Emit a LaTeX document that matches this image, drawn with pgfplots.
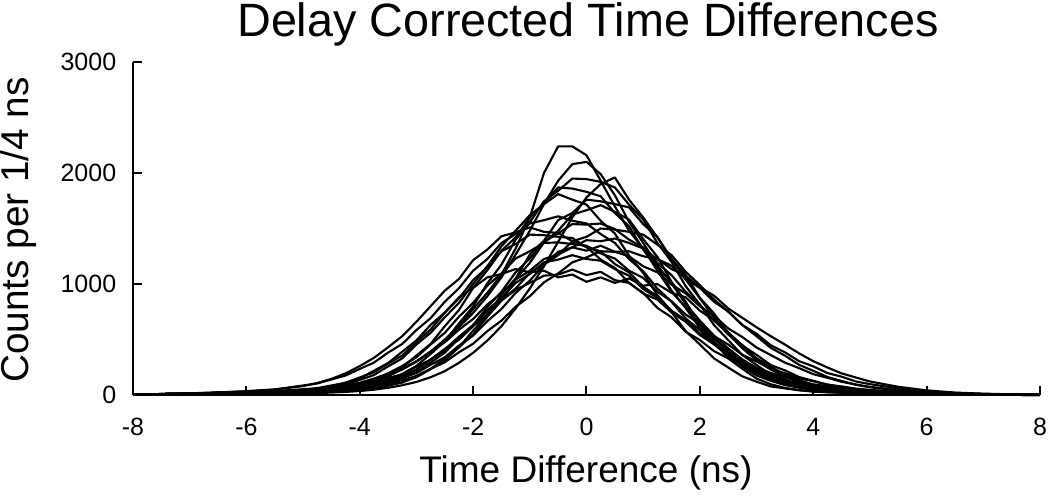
\documentclass[border=0pt]{standalone}
\usepackage{fontspec}
\setmainfont{Liberation Sans}
\usepackage{pgfplots}
\pgfplotsset{compat=1.18}
\begin{document}
\begin{tikzpicture}
\path[use as bounding box] (-53.2pt,-40.8pt) rectangle (366.8pt,158pt);
\begin{axis}[
  at={(0,0)}, anchor=south west,
  scale only axis, width=362.8pt, height=133.2pt,
  xmin=-8, xmax=8, ymin=0, ymax=3000,
  axis lines*=left,
  axis line style={line width=0.8pt},
  tick align=inside,
  major tick length=3.6pt,
  tick style={line width=0.8pt, black},
  xtick={-8,-6,...,8}, ytick={0,1000,2000,3000},
  /pgf/number format/assume math mode=true,
  /pgf/number format/1000 sep={},
  ticklabel style={font=\fontsize{10}{12}\selectfont},
  xticklabel style={yshift=-5.6pt},
  yticklabel style={xshift=-3.2pt},
  clip=false,
  cycle list={{black, mark=none}},
  every axis plot post/.append style={black, line width=0.85pt, line join=round, mark=none},
]
% N1
\addplot coordinates {(-8,2)(-7.5,5)(-7,8)(-6.5,12)(-6,15)(-5.5,20)(-5,30)(-4.75,38)(-4.5,50)(-4.25,68)(-4,90)(-3.75,125)(-3.5,170)(-3.25,230)(-3,300)(-2.75,390)(-2.5,500)(-2.25,620)(-2,775)(-1.75,920)(-1.5,1085)(-1.25,1320)(-1,1600)(-0.75,2000)(-0.5,2240)(-0.25,2240)(0,2160)(0.25,1930)(0.5,1700)(0.75,1480)(1,1320)(1.25,1120)(1.5,930)(1.75,790)(2,640)(2.25,510)(2.5,400)(2.75,300)(3,220)(3.25,160)(3.5,115)(3.75,80)(4,55)(4.25,38)(4.5,27)(4.75,19)(5,14)(5.5,8)(6,5)(6.5,3)(7,2)(7.5,1)(8,0)};
% N2
\addplot coordinates {(-8,3)(-7.5,6)(-7,9)(-6.5,13)(-6,18)(-5.5,25)(-5,35)(-4.75,45)(-4.5,58)(-4.25,75)(-4,100)(-3.75,135)(-3.5,180)(-3.25,235)(-3,305)(-2.75,390)(-2.5,490)(-2.25,610)(-2,740)(-1.75,890)(-1.5,1060)(-1.25,1265)(-1,1480)(-0.75,1720)(-0.5,1930)(-0.25,2080)(0,2100)(0.25,1990)(0.5,1800)(0.75,1560)(1,1370)(1.25,1170)(1.5,1005)(1.75,820)(2,670)(2.25,535)(2.5,420)(2.75,320)(3,240)(3.25,175)(3.5,125)(3.75,88)(4,60)(4.25,42)(4.5,30)(4.75,21)(5,15)(5.5,9)(6,5)(6.5,3)(7,2)(7.5,1)(8,0)};
% N3
\addplot coordinates {(-8,2)(-7.5,3)(-7,5)(-6.5,7)(-6,9)(-5.5,12)(-5,15)(-4.75,18)(-4.5,22)(-4.25,28)(-4,36)(-3.75,48)(-3.5,65)(-3.25,88)(-3,118)(-2.75,160)(-2.5,215)(-2.25,290)(-2,380)(-1.75,490)(-1.5,620)(-1.25,780)(-1,960)(-0.75,1160)(-0.5,1380)(-0.25,1600)(0,1780)(0.25,1900)(0.5,1960)(0.75,1760)(1,1600)(1.25,1420)(1.5,1230)(1.75,1040)(2,870)(2.25,700)(2.5,550)(2.75,420)(3,315)(3.25,230)(3.5,165)(3.75,115)(4,80)(4.25,55)(4.5,38)(4.75,27)(5,19)(5.5,11)(6,6)(6.5,3)(7,2)(7.5,1)(8,0)};
% P1
\addplot coordinates {(-8,3)(-7.5,8)(-7,12)(-6.5,18)(-6,23)(-5.5,27)(-5,33)(-4.75,36)(-4.5,41)(-4.25,55)(-4,70)(-3.75,99)(-3.5,136)(-3.25,190)(-3,262)(-2.75,370)(-2.5,482)(-2.25,645)(-2,798)(-1.75,1005)(-1.5,1175)(-1.25,1400)(-1,1555)(-0.75,1745)(-0.5,1840)(-0.25,1950)(0,1945)(0.25,1920)(0.5,1870)(0.75,1715)(1,1580)(1.25,1370)(1.5,1200)(1.75,980)(2,815)(2.25,630)(2.5,495)(2.75,360)(3,270)(3.25,183)(3.5,140)(3.75,94)(4,70)(4.25,48)(4.5,38)(4.75,27)(5,23)(5.5,16)(6,12)(6.5,8)(7,5)(7.5,3)(8,1)};
% P2
\addplot coordinates {(-8,3)(-7.5,7)(-7,13)(-6.5,17)(-6,24)(-5.5,28)(-5,38)(-4.75,42)(-4.5,56)(-4.25,70)(-4,101)(-3.75,133)(-3.5,194)(-3.25,250)(-3,356)(-2.75,460)(-2.5,620)(-2.25,765)(-2,965)(-1.75,1125)(-1.5,1300)(-1.25,1420)(-1,1600)(-0.75,1730)(-0.5,1870)(-0.25,1860)(0,1830)(0.25,1790)(0.5,1640)(0.75,1520)(1,1310)(1.25,1155)(1.5,940)(1.75,785)(2,600)(2.25,478)(2.5,342)(2.75,258)(3,176)(3.25,128)(3.5,90)(3.75,66)(4,45)(4.25,36)(4.5,26)(4.75,22)(5,19)(5.5,15)(6,11)(6.5,8)(7,5)(7.5,3)(8,1)};
% P3
\addplot coordinates {(-8,3)(-7.5,9)(-7,12)(-6.5,19)(-6,25)(-5.5,31)(-5,46)(-4.75,54)(-4.5,73)(-4.25,95)(-4,136)(-3.75,180)(-3.5,258)(-3.25,330)(-3,455)(-2.75,560)(-2.5,700)(-2.25,830)(-2,1000)(-1.75,1160)(-1.5,1340)(-1.25,1480)(-1,1620)(-0.75,1720)(-0.5,1810)(-0.25,1760)(0,1715)(0.25,1570)(0.5,1455)(0.75,1255)(1,1100)(1.25,900)(1.5,748)(1.75,575)(2,455)(2.25,330)(2.5,248)(2.75,168)(3,120)(3.25,77)(3.5,60)(3.75,42)(4,33)(4.25,25)(4.5,22)(4.75,19)(5,17)(5.5,14)(6,11)(6.5,8)(7,5)(7.5,3)(8,1)};
% P4
\addplot coordinates {(-8,2)(-7.5,8)(-7,11)(-6.5,18)(-6,21)(-5.5,27)(-5,30)(-4.75,28)(-4.5,33)(-4.25,37)(-4,49)(-3.75,60)(-3.5,89)(-3.25,112)(-3,172)(-2.75,232)(-2.5,335)(-2.25,430)(-2,580)(-1.75,715)(-1.5,905)(-1.25,1050)(-1,1265)(-0.75,1390)(-0.5,1575)(-0.25,1640)(0,1760)(0.25,1745)(0.5,1720)(0.75,1690)(1,1540)(1.25,1425)(1.5,1225)(1.75,1080)(2,875)(2.25,735)(2.5,560)(2.75,445)(3,320)(3.25,242)(3.5,172)(3.75,128)(4,87)(4.25,66)(4.5,45)(4.75,36)(5,26)(5.5,18)(6,12)(6.5,8)(7,5)(7.5,3)(8,1)};
% P5
\addplot coordinates {(-8,3)(-7.5,8)(-7,12)(-6.5,18)(-6,24)(-5.5,29)(-5,36)(-4.75,40)(-4.5,44)(-4.25,57)(-4,68)(-3.75,93)(-3.5,118)(-3.25,155)(-3,198)(-2.75,272)(-2.5,340)(-2.25,445)(-2,535)(-1.75,665)(-1.5,775)(-1.25,920)(-1,1030)(-0.75,1175)(-0.5,1260)(-0.25,1385)(0,1425)(0.25,1500)(0.5,1490)(0.75,1470)(1,1445)(1.25,1355)(1.5,1260)(1.75,1110)(2,990)(2.25,860)(2.5,750)(2.75,630)(3,530)(3.25,425)(3.5,355)(3.75,272)(4,218)(4.25,162)(4.5,127)(4.75,92)(5,70)(5.5,39)(6,22)(6.5,12)(7,7)(7.5,3)(8,1)};
% B1
\addplot coordinates {(-8,3)(-7.5,9)(-7,15)(-6.5,24)(-6,32)(-5.5,50)(-5,80)(-4.75,108)(-4.5,145)(-4.25,195)(-4,260)(-3.75,335)(-3.5,430)(-3.25,530)(-3,660)(-2.75,800)(-2.5,940)(-2.25,1045)(-2,1215)(-1.75,1310)(-1.5,1430)(-1.25,1465)(-1,1510)(-0.75,1470)(-0.5,1460)(-0.25,1385)(0,1335)(0.25,1220)(0.5,1145)(0.75,1010)(1,920)(1.25,785)(1.5,700)(1.75,570)(2,495)(2.25,395)(2.5,330)(2.75,252)(3,208)(3.25,150)(3.5,130)(3.75,97)(4,80)(4.25,60)(4.5,50)(4.75,38)(5,32)(5.5,22)(6,14)(6.5,9)(7,5)(7.5,3)(8,1)};
% B2
\addplot coordinates {(-8,3)(-7.5,8)(-7,12)(-6.5,19)(-6,26)(-5.5,34)(-5,52)(-4.75,62)(-4.5,86)(-4.25,110)(-4,158)(-3.75,205)(-3.5,284)(-3.25,355)(-3,478)(-2.75,590)(-2.5,742)(-2.25,870)(-2,1035)(-1.75,1150)(-1.5,1295)(-1.25,1360)(-1,1445)(-0.75,1440)(-0.5,1425)(-0.25,1415)(0,1330)(0.25,1295)(0.5,1180)(0.75,1105)(1,975)(1.25,890)(1.5,760)(1.75,675)(2,555)(2.25,480)(2.5,380)(2.75,318)(3,245)(3.25,200)(3.5,158)(3.75,127)(4,96)(4.25,80)(4.5,60)(4.75,49)(5,38)(5.5,25)(6,16)(6.5,10)(7,5)(7.5,3)(8,1)};
% B3
\addplot coordinates {(-8,3)(-7.5,8)(-7,12)(-6.5,19)(-6,24)(-5.5,30)(-5,42)(-4.75,45)(-4.5,57)(-4.25,67)(-4,91)(-3.75,112)(-3.5,155)(-3.25,185)(-3,256)(-2.75,318)(-2.5,415)(-2.25,498)(-2,620)(-1.75,722)(-1.5,860)(-1.25,960)(-1,1100)(-0.75,1175)(-0.5,1290)(-0.25,1330)(0,1395)(0.25,1385)(0.5,1410)(0.75,1370)(1,1320)(1.25,1225)(1.5,1165)(1.75,1045)(2,965)(2.25,840)(2.5,755)(2.75,630)(3,552)(3.25,448)(3.5,385)(3.75,305)(4,258)(4.25,198)(4.5,165)(4.75,122)(5,98)(5.5,59)(6,33)(6.5,19)(7,10)(7.5,5)(8,1)};
% B4
\addplot coordinates {(-8,3)(-7.5,8)(-7,12)(-6.5,18)(-6,24)(-5.5,31)(-5,39)(-4.75,48)(-4.5,58)(-4.25,80)(-4,104)(-3.75,146)(-3.5,195)(-3.25,262)(-3,340)(-2.75,455)(-2.5,560)(-2.25,705)(-2,830)(-1.75,985)(-1.5,1095)(-1.25,1230)(-1,1295)(-0.75,1370)(-0.5,1375)(-0.25,1360)(0,1345)(0.25,1275)(0.5,1230)(0.75,1120)(1,1055)(1.25,930)(1.5,845)(1.75,725)(2,640)(2.25,530)(2.5,455)(2.75,362)(3,302)(3.25,234)(3.5,197)(3.75,150)(4,124)(4.25,94)(4.5,77)(4.75,58)(5,46)(5.5,29)(6,18)(6.5,11)(7,5)(7.5,3)(8,1)};
% B5
\addplot coordinates {(-8,3)(-7.5,8)(-7,12)(-6.5,19)(-6,26)(-5.5,36)(-5,46)(-4.75,56)(-4.5,68)(-4.25,90)(-4,110)(-3.75,148)(-3.5,187)(-3.25,240)(-3,302)(-2.75,392)(-2.5,475)(-2.25,588)(-2,685)(-1.75,815)(-1.5,915)(-1.25,1040)(-1,1120)(-0.75,1225)(-0.5,1265)(-0.25,1330)(0,1300)(0.25,1345)(0.5,1290)(0.75,1250)(1,1160)(1.25,1105)(1.5,995)(1.75,915)(2,800)(2.25,715)(2.5,600)(2.75,522)(3,428)(3.25,360)(3.5,292)(3.75,242)(4,188)(4.25,155)(4.5,119)(4.75,95)(5,73)(5.5,44)(6,26)(6.5,15)(7,8)(7.5,4)(8,1)};
% B6
\addplot coordinates {(-8,3)(-7.5,8)(-7,12)(-6.5,18)(-6,23)(-5.5,29)(-5,34)(-4.75,37)(-4.5,41)(-4.25,52)(-4,62)(-3.75,81)(-3.5,104)(-3.25,134)(-3,172)(-2.75,236)(-2.5,295)(-2.25,385)(-2,462)(-1.75,575)(-1.5,670)(-1.25,795)(-1,890)(-0.75,1015)(-0.5,1095)(-0.25,1195)(0,1240)(0.25,1295)(0.5,1290)(0.75,1295)(1,1250)(1.25,1225)(1.5,1135)(1.75,1075)(2,970)(2.25,895)(2.5,780)(2.75,695)(3,610)(3.25,530)(3.5,455)(3.75,375)(4,305)(4.25,248)(4.5,195)(4.75,158)(5,122)(5.5,74)(6,42)(6.5,22)(7,12)(7.5,6)(8,1)};
% B7
\addplot coordinates {(-8,3)(-7.5,8)(-7,12)(-6.5,18)(-6,23)(-5.5,28)(-5,33)(-4.75,37)(-4.5,42)(-4.25,55)(-4,68)(-3.75,96)(-3.5,128)(-3.25,172)(-3,228)(-2.75,318)(-2.5,400)(-2.25,520)(-2,625)(-1.75,765)(-1.5,875)(-1.25,1010)(-1,1090)(-0.75,1195)(-0.5,1220)(-0.25,1260)(0,1225)(0.25,1210)(0.5,1135)(0.75,1075)(1,955)(1.25,875)(1.5,745)(1.75,660)(2,540)(2.25,458)(2.5,358)(2.75,292)(3,218)(3.25,172)(3.5,131)(3.75,104)(4,76)(4.25,61)(4.5,45)(4.75,37)(5,29)(5.5,20)(6,13)(6.5,8)(7,5)(7.5,3)(8,1)};
% F1
\addplot coordinates {(-8,3)(-7.5,8)(-7,12)(-6.5,18)(-6,22)(-5.5,26)(-5,30)(-4.75,32)(-4.5,35)(-4.25,47)(-4,60)(-3.75,86)(-3.5,119)(-3.25,166)(-3,230)(-2.75,320)(-2.5,410)(-2.25,525)(-2,630)(-1.75,752)(-1.5,850)(-1.25,948)(-1,1010)(-0.75,1075)(-0.5,1085)(-0.25,1130)(0,1080)(0.25,1110)(0.5,1035)(0.75,1010)(1,915)(1.25,860)(1.5,745)(1.75,665)(2,548)(2.25,458)(2.5,352)(2.75,276)(3,196)(3.25,145)(3.5,102)(3.75,73)(4,50)(4.25,38)(4.5,29)(4.75,23)(5,19)(5.5,15)(6,11)(6.5,8)(7,5)(7.5,3)(8,1)};
% F2
\addplot coordinates {(-8,3)(-7.5,8)(-7,12)(-6.5,18)(-6,23)(-5.5,31)(-5,45)(-4.75,58)(-4.5,76)(-4.25,111)(-4,150)(-3.75,218)(-3.5,288)(-3.25,390)(-3,492)(-2.75,632)(-2.5,742)(-2.25,880)(-2,965)(-1.75,1060)(-1.5,1090)(-1.25,1135)(-1,1105)(-0.75,1120)(-0.5,1060)(-0.25,1085)(0,1020)(0.25,1060)(0.5,1010)(0.75,1050)(1,985)(1.25,1000)(1.5,920)(1.75,880)(2,760)(2.25,675)(2.5,545)(2.75,450)(3,330)(3.25,256)(3.5,182)(3.75,135)(4,90)(4.25,67)(4.5,44)(4.75,34)(5,25)(5.5,17)(6,11)(6.5,8)(7,5)(7.5,3)(8,1)};
% M1
\addplot coordinates {(-8,3)(-7.5,9)(-7,14)(-6.5,22)(-6,35)(-5.5,50)(-5,86)(-4.75,104)(-4.5,140)(-4.25,176)(-4,235)(-3.75,292)(-3.5,382)(-3.25,460)(-3,585)(-2.75,692)(-2.5,840)(-2.25,962)(-2,1120)(-1.75,1225)(-1.5,1370)(-1.25,1450)(-1,1545)(-0.75,1575)(-0.5,1610)(-0.25,1570)(0,1545)(0.25,1450)(0.5,1370)(0.75,1225)(1,1115)(1.25,960)(1.5,840)(1.75,690)(2,585)(2.25,458)(2.5,372)(2.75,280)(3,220)(3.25,158)(3.5,128)(3.75,92)(4,72)(4.25,53)(4.5,43)(4.75,32)(5,27)(5.5,18)(6,13)(6.5,8)(7,5)(7.5,3)(8,1)};
% M2
\addplot coordinates {(-8,3)(-7.5,8)(-7,12)(-6.5,18)(-6,22)(-5.5,27)(-5,31)(-4.75,33)(-4.5,36)(-4.25,47)(-4,58)(-3.75,82)(-3.5,110)(-3.25,150)(-3,206)(-2.75,292)(-2.5,382)(-2.25,510)(-2,630)(-1.75,792)(-1.5,930)(-1.25,1105)(-1,1230)(-0.75,1380)(-0.5,1455)(-0.25,1540)(0,1535)(0.25,1545)(0.5,1495)(0.75,1400)(1,1330)(1.25,1190)(1.5,1080)(1.75,930)(2,815)(2.25,670)(2.5,565)(2.75,445)(3,362)(3.25,270)(3.5,222)(3.75,162)(4,128)(4.25,93)(4.5,73)(4.75,53)(5,41)(5.5,25)(6,15)(6.5,10)(7,5)(7.5,3)(8,1)};
% M3
\addplot coordinates {(-8,3)(-7.5,8)(-7,12)(-6.5,18)(-6,22)(-5.5,26)(-5,29)(-4.75,30)(-4.5,31)(-4.25,38)(-4,45)(-3.75,62)(-3.5,84)(-3.25,115)(-3,160)(-2.75,234)(-2.5,312)(-2.25,430)(-2,545)(-1.75,705)(-1.5,850)(-1.25,1045)(-1,1190)(-0.75,1375)(-0.5,1480)(-0.25,1625)(0,1665)(0.25,1710)(0.5,1650)(0.75,1580)(1,1405)(1.25,1245)(1.5,1020)(1.75,840)(2,630)(2.25,480)(2.5,330)(2.75,236)(3,148)(3.25,97)(3.5,64)(3.75,45)(4,30)(4.25,25)(4.5,20)(4.75,18)(5,16)(5.5,14)(6,11)(6.5,8)(7,5)(7.5,3)(8,1)};
\end{axis}
\node[font=\fontsize{18.7}{22}\selectfont, anchor=base] at (182pt,143.6pt) {Delay Corrected Time Differences};
\node[font=\fontsize{14.8}{18}\selectfont, anchor=base] at (181.2pt,-34.8pt) {Time Difference (ns)};
\node[font=\fontsize{15.5}{18}\selectfont, anchor=base, rotate=90] at (-41.6pt,66pt) {Counts per 1/4 ns};
\end{tikzpicture}
\end{document}
